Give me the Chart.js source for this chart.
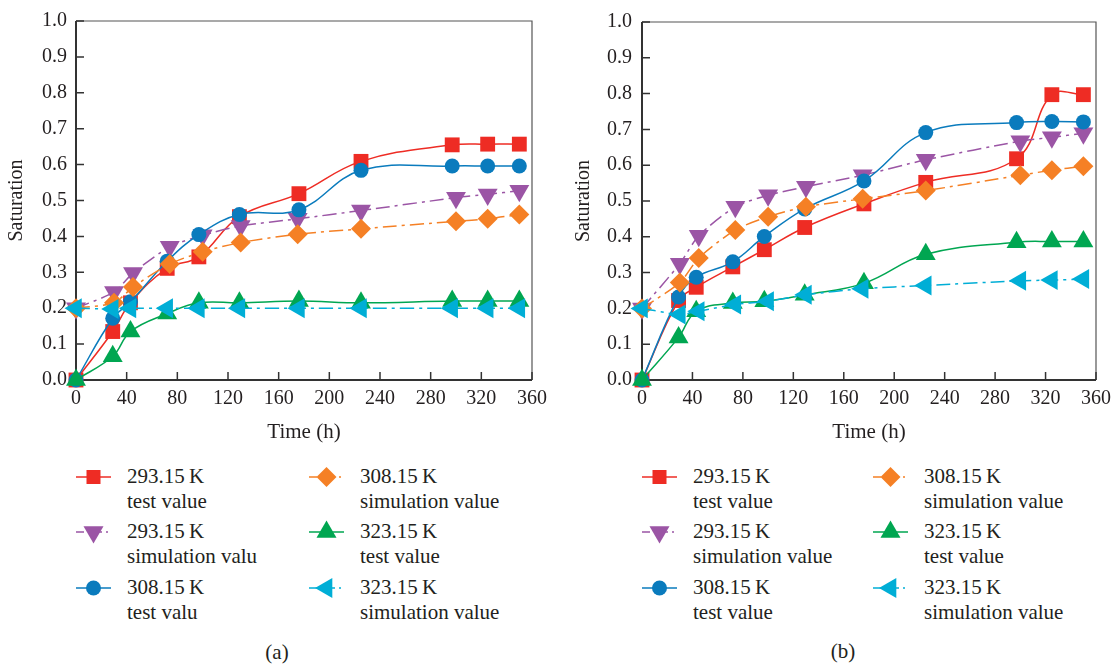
<!DOCTYPE html>
<html>
<head>
<meta charset="utf-8">
<script src="https://cdn.jsdelivr.net/npm/chart.js@4.4.0/dist/chart.umd.min.js"></script>
<style>
  body { margin:0; background:#fff; width:1118px; height:664px; position:relative; overflow:hidden;
         font-family:"Liberation Serif", "Times New Roman", serif; color:#231f20; }
  .caja { position:absolute; top:0; height:460px; width:559px; }
  .ley { position:absolute; font-size:21px; line-height:25px; white-space:nowrap; }
  .mk { position:absolute; }
  .cap { position:absolute; font-size:21px; transform:translate(-50%,-50%); }
</style>
</head>
<body>
<div class="caja" style="left:0"><canvas id="chartA"></canvas></div>
<div class="caja" style="left:559px"><canvas id="chartB"></canvas></div>
<div id="leyendas"></div>
<div class="cap" style="left:277px;top:652px">(a)</div>
<div class="cap" style="left:843px;top:651px">(b)</div>

<script>
// tiempos (h) de cada medida
var horasPrueba = [0, 29, 43, 72, 97, 129, 176, 225, 297, 325, 350];
var horasSim = [0, 30, 45, 74, 100, 130, 175, 225, 300, 325, 350];

// (a) saturacion
var test293A = [0.0, 0.135, 0.215, 0.311, 0.343, 0.455, 0.519, 0.609, 0.655, 0.657, 0.657];
var sim293A = [0.2, 0.245, 0.298, 0.371, 0.403, 0.429, 0.449, 0.472, 0.508, 0.517, 0.527];
var test308A = [0.0, 0.172, 0.218, 0.331, 0.405, 0.461, 0.474, 0.584, 0.596, 0.596, 0.596];
var sim308A = [0.2, 0.215, 0.259, 0.323, 0.357, 0.383, 0.406, 0.421, 0.442, 0.449, 0.461];
var test323A = [0.0, 0.066, 0.135, 0.185, 0.215, 0.215, 0.22, 0.215, 0.22, 0.22, 0.22];
var sim323A = [0.2, 0.198, 0.2, 0.2, 0.2, 0.2, 0.2, 0.2, 0.2, 0.2, 0.2];

// (b) saturacion
var test293B = [0.0, 0.222, 0.259, 0.316, 0.364, 0.426, 0.492, 0.552, 0.618, 0.797, 0.797];
var sim293B = [0.2, 0.325, 0.403, 0.484, 0.516, 0.54, 0.572, 0.615, 0.667, 0.678, 0.689];
var test308B = [0.0, 0.232, 0.287, 0.33, 0.401, 0.478, 0.556, 0.691, 0.719, 0.722, 0.721];
var sim308B = [0.2, 0.272, 0.341, 0.419, 0.456, 0.484, 0.506, 0.529, 0.572, 0.586, 0.597];
var test323B = [0.0, 0.119, 0.192, 0.215, 0.22, 0.238, 0.27, 0.351, 0.385, 0.387, 0.387];
var sim323B = [0.2, 0.183, 0.192, 0.211, 0.22, 0.238, 0.255, 0.264, 0.277, 0.279, 0.282];

var ticksX = [0, 40, 80, 120, 160, 200, 240, 280, 320, 360];

var etiquetasA = [
  ['293.15\u2009K', 'test value'], ['293.15\u2009K', 'simulation valu'], ['308.15\u2009K', 'test valu'],
  ['308.15\u2009K', 'simulation value'], ['323.15\u2009K', 'test value'], ['323.15\u2009K', 'simulation value']
];
var etiquetasB = [
  ['293.15\u2009K', 'test value'], ['293.15\u2009K', 'simulation value'], ['308.15\u2009K', 'test value'],
  ['308.15\u2009K', 'simulation value'], ['323.15\u2009K', 'test value'], ['323.15\u2009K', 'simulation value']
];

// estilo de cada serie: rojo, morado, azul, naranja, verde, cian
var estilos = [
  {color:'#ee2c24', punto:'rect', rot:0, radio:10.5, sim:false},
  {color:'#9b55a5', punto:'triangle', rot:180, radio:11.5, sim:true},
  {color:'#0a7bbd', punto:'circle', rot:0, radio:7.5, sim:false},
  {color:'#f58025', punto:'rectRot', rot:0, radio:10, sim:true},
  {color:'#00a651', punto:'triangle', rot:0, radio:11.5, sim:false},
  {color:'#00aed6', punto:'triangle', rot:-90, radio:11.5, sim:true}
];

function puntos(xs, ys){
  return xs.map(function(x, i){ return {x:x, y:ys[i]}; });
}

function armarDatasets(series){
  var ds = [];
  for (var i = 0; i < series.length; i++) {
    var e = estilos[i];
    ds.push({
      data: puntos(series[i][0], series[i][1]),
      borderColor: e.color,
      backgroundColor: e.color,
      borderWidth: 1.5,
      borderDash: e.sim ? [14, 5, 3, 5] : [],
      tension: e.sim ? 0.25 : 0.4,
      pointStyle: e.punto,
      pointRotation: e.rot,
      pointRadius: e.radio,
      pointBorderWidth: 0,
      fill: false,
      clip: false,
      // rojo abajo, cian arriba
      order: 6 - i
    });
  }
  return ds;
}

// marco del grafico y ticks hacia adentro
var marcoEjes = {
  id: 'marcoEjes',
  beforeDatasetsDraw: function(chart){
    var ctx = chart.ctx, a = chart.chartArea;
    var sx = chart.scales.x, sy = chart.scales.y;
    ctx.save();
    ctx.strokeStyle = '#555';
    ctx.lineWidth = 1.2;
    ctx.beginPath();
    ctx.moveTo(a.left, a.top); ctx.lineTo(a.right, a.top); ctx.lineTo(a.right, a.bottom);
    ctx.stroke();
    ctx.strokeStyle = '#333';
    ctx.lineWidth = 2;
    ctx.beginPath();
    ctx.moveTo(a.left, a.top); ctx.lineTo(a.left, a.bottom); ctx.lineTo(a.right, a.bottom);
    ctx.stroke();
    ctx.lineWidth = 1.5;
    ctx.beginPath();
    sy.ticks.forEach(function(t){
      var py = sy.getPixelForValue(t.value);
      ctx.moveTo(a.left, py); ctx.lineTo(a.left + 8, py);
    });
    sx.ticks.forEach(function(t){
      var px = sx.getPixelForValue(t.value);
      ctx.moveTo(px, a.bottom); ctx.lineTo(px, a.bottom - 8);
    });
    ctx.stroke();
    ctx.restore();
  }
};

function crearGrafico(id, series, anchoY, padDer, padTitulo){
  var fuente = {family:'"Liberation Serif", serif', size:20};
  return new Chart(document.getElementById(id), {
    type: 'line',
    data: { datasets: armarDatasets(series) },
    options: {
      responsive: true,
      maintainAspectRatio: false,
      animation: false,
      layout: { padding: {top:16, right:padDer, bottom:0, left:0} },
      plugins: { legend: {display:false}, tooltip: {enabled:false} },
      scales: {
        x: {
          type: 'linear', min: 0, max: 360,
          afterBuildTicks: function(s){ s.ticks = ticksX.map(function(v){ return {value:v}; }); },
          afterFit: function(s){ s.height = 80; },
          grid: {display:false, drawTicks:false},
          border: {display:false},
          ticks: {font:fuente, color:'#231f20', padding:7, maxRotation:0},
          title: {display:true, text:'Time (h)', font:{family:'"Liberation Serif", serif', size:21},
                  color:'#231f20', padding:{top:0, bottom:15}}
        },
        y: {
          min: 0, max: 1,
          afterFit: function(s){ s.width = anchoY; },
          grid: {display:false, drawTicks:false},
          border: {display:false},
          ticks: {font:fuente, color:'#231f20', padding:anchoY === 76 ? 9 : 10, stepSize:0.1,
                  callback: function(v){ return v.toFixed(1); }},
          title: {display:true, text:'Saturation', font:{family:'"Liberation Serif", serif', size:20},
                  color:'#231f20', padding:{top:padTitulo, bottom:0}}
        }
      }
    },
    plugins: [marcoEjes]
  });
}

crearGrafico('chartA', [
  [horasPrueba, test293A], [horasSim, sim293A], [horasPrueba, test308A],
  [horasSim, sim308A], [horasPrueba, test323A], [horasPrueba, sim323A]
], 76, 27, 5);

crearGrafico('chartB', [
  [horasPrueba, test293B], [horasSim, sim293B], [horasPrueba, test308B],
  [horasSim, sim308B], [horasPrueba, test323B], [horasSim, sim323B]
], 83, 21, 13);

// leyendas de abajo (html)
function marcador(e){
  var c = e.color, s = '';
  var cx = 17.5, cy = 12;
  s += '<line x1="0" y1="12" x2="35" y2="12" stroke="' + c + '" stroke-width="1.5"' +
       (e.sim ? ' stroke-dasharray="8,4,2,4"' : '') + '/>';
  if (e.punto === 'rect') s += '<rect x="' + (cx - 7) + '" y="' + (cy - 7) + '" width="14" height="14" fill="' + c + '"/>';
  if (e.punto === 'circle') s += '<circle cx="' + cx + '" cy="' + cy + '" r="7.5" fill="' + c + '"/>';
  if (e.punto === 'rectRot') s += '<polygon points="' + cx + ',' + (cy - 10) + ' ' + (cx + 10) + ',' + cy + ' ' + cx + ',' + (cy + 10) + ' ' + (cx - 10) + ',' + cy + '" fill="' + c + '"/>';
  if (e.punto === 'triangle') {
    var r = 11.5, pts = [];
    for (var k = 0; k < 3; k++) {
      var ang = (e.rot * Math.PI / 180) + k * 2 * Math.PI / 3;
      pts.push((cx + Math.sin(ang) * r).toFixed(1) + ',' + (cy - Math.cos(ang) * r).toFixed(1));
    }
    s += '<polygon points="' + pts.join(' ') + '" fill="' + c + '"/>';
  }
  return '<svg width="36" height="24">' + s + '</svg>';
}

function armarLeyenda(etiquetas, cols){
  var cont = document.getElementById('leyendas');
  for (var i = 0; i < 6; i++) {
    var col = Math.floor(i / 3), fila = i % 3;
    var y0 = 463.5 + fila * 55.5;
    var m = document.createElement('div');
    m.className = 'mk';
    m.style.left = cols[col][0] + 'px';
    m.style.top = (y0 + 1) + 'px';
    m.innerHTML = marcador(estilos[i]);
    cont.appendChild(m);
    var t = document.createElement('div');
    t.className = 'ley';
    t.style.left = cols[col][1] + 'px';
    t.style.top = y0 + 'px';
    t.innerHTML = etiquetas[i][0] + '<br>' + etiquetas[i][1];
    cont.appendChild(t);
  }
}

armarLeyenda(etiquetasA, [[76, 127], [309, 360]]);
armarLeyenda(etiquetasB, [[642, 693], [873, 924]]);
</script>
</body>
</html>
